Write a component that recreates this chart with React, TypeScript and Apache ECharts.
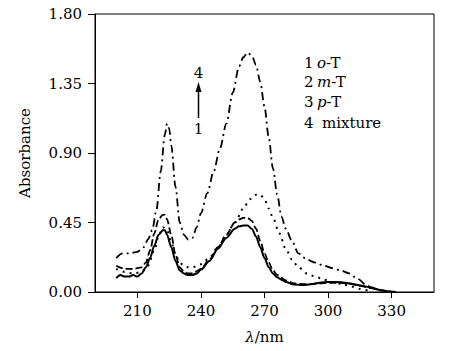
import React, { useEffect, useRef } from "react";
import * as echarts from "echarts";

// o-T (curve 1, solid)
const oTx = [200,202,204,206,208,210,212,214,216,218,220,222,223,224,226,228,230,232,234,236,238,240,244,248,252,256,258,260,262,264,266,268,270,272,274,276,278,280,284,288,292,296,300,304,308,312,316,320,324,328,332];
const oTy = [0.09,0.11,0.10,0.10,0.11,0.10,0.12,0.16,0.22,0.30,0.37,0.40,0.40,0.37,0.29,0.20,0.14,0.12,0.11,0.11,0.12,0.145,0.20,0.28,0.35,0.41,0.425,0.43,0.43,0.41,0.36,0.29,0.22,0.16,0.12,0.095,0.08,0.065,0.048,0.045,0.05,0.06,0.065,0.065,0.06,0.05,0.04,0.03,0.015,0.005,0.0];

// m-T (curve 2, dashed)
const mTx = [200,204,208,212,214,216,218,220,222,223,224,226,228,230,232,234,236,240,244,248,252,256,258,260,262,264,266,268,270,272,274,276,280,284,290,296,300,305,310,315,320,325,330];
const mTy = [0.17,0.15,0.15,0.16,0.19,0.27,0.38,0.47,0.50,0.50,0.47,0.37,0.24,0.16,0.13,0.12,0.12,0.15,0.21,0.29,0.37,0.45,0.47,0.48,0.48,0.46,0.41,0.33,0.25,0.19,0.14,0.11,0.075,0.055,0.05,0.055,0.06,0.06,0.055,0.04,0.025,0.01,0.0];

// p-T (curve 3, dotted)
const pTx = [200,204,208,212,215,218,220,222,224,226,228,230,232,234,236,240,244,248,252,256,260,263,266,268,270,272,274,277,280,283,286,290,294,298,302,307,311,315,320];
const pTy = [0.15,0.13,0.12,0.13,0.17,0.27,0.36,0.42,0.40,0.32,0.24,0.19,0.17,0.16,0.16,0.18,0.22,0.29,0.37,0.45,0.54,0.60,0.63,0.63,0.60,0.54,0.48,0.38,0.28,0.21,0.16,0.12,0.10,0.08,0.065,0.05,0.035,0.02,0.005];

// mixture (curve 4, dash-dot)
const mixX = [200,203,206,210,213,215,217,219,221,223,224,225,226,228,230,232,234,236,238,240,243,246,249,252,255,258,260,262,264,266,268,270,272,274,276,278,280,283,286,290,294,298,302,306,310,314,318,321];
const mixY = [0.22,0.25,0.25,0.26,0.29,0.34,0.40,0.53,0.78,1.02,1.09,1.06,0.95,0.68,0.45,0.37,0.34,0.35,0.42,0.51,0.64,0.78,0.93,1.09,1.29,1.46,1.52,1.55,1.53,1.47,1.36,1.20,1.00,0.80,0.63,0.49,0.41,0.33,0.25,0.21,0.19,0.17,0.155,0.14,0.12,0.085,0.045,0.02];

const xTicks = [210, 240, 270, 300, 330];
const legendNums = ["1", "2", "3", "4"];
const legendNames = ["{i|o}-T", "{i|m}-T", "{i|p}-T", "mixture"];

const FONT = "DejaVu Serif";
const FS = 15;

const zip = (xs: number[], ys: number[]) => xs.map((x, i) => [x, ys[i]]);

export default function App() {
  const ref = useRef<HTMLDivElement>(null);
  useEffect(() => {
    if (!ref.current) return;
    const chart = echarts.init(ref.current, null, { renderer: "svg" });
    const baseLine = (data: number[][], type: any, width: number) => ({
      type: "line",
      data,
      smooth: 0.3,
      smoothMonotone: "x",
      showSymbol: false,
      symbol: "none",
      lineStyle: { color: "#000", width, type },
    });
    const txt = (x: number, y: number, text: string, align = "left") => ({
      type: "text",
      x,
      y,
      style: {
        text,
        fill: "#000",
        fontFamily: FONT,
        fontSize: FS,
        align,
        verticalAlign: "middle",
        rich: { i: { fontStyle: "italic", fontFamily: FONT, fontSize: FS } },
      },
    });
    const legendYs = [63, 82, 102, 123];
    const graphics: any[] = [];
    legendNums.forEach((n, i) => {
      graphics.push(txt(304, legendYs[i], n));
      graphics.push(txt(i === 3 ? 322 : 317, legendYs[i], legendNames[i]));
    });
    graphics.push(txt(198.5, 73, "4", "center"));
    graphics.push(txt(198.5, 129, "1", "center"));
    graphics.push({
      type: "line",
      shape: { x1: 198.5, y1: 118, x2: 198.5, y2: 90 },
      style: { stroke: "#000", lineWidth: 1.5 },
    });
    graphics.push({
      type: "polygon",
      shape: { points: [[198.5, 82], [195.5, 92], [201.5, 92]] },
      style: { fill: "#000" },
    });

    chart.setOption({
      animation: false,
      textStyle: { fontFamily: FONT },
      grid: {
        left: 95,
        right: 16,
        top: 14,
        bottom: 59,
        show: true,
        borderColor: "#000",
        borderWidth: 1,
      },
      xAxis: {
        type: "value",
        min: 190,
        max: 350,
        name: "{i|λ}/nm",
        nameLocation: "middle",
        nameGap: 37,
        nameTextStyle: {
          color: "#000",
          fontFamily: FONT,
          fontSize: FS,
          rich: { i: { fontStyle: "italic", fontFamily: FONT, fontSize: FS, color: "#000" } },
        },
        axisLine: { lineStyle: { color: "#000", width: 1 } },
        axisTick: { show: true, length: 6, inside: false, customValues: xTicks, lineStyle: { color: "#000" } },
        axisLabel: { customValues: xTicks, color: "#000", fontFamily: FONT, fontSize: FS, margin: 11 },
        splitLine: { show: false },
      },
      yAxis: {
        type: "value",
        min: 0,
        max: 1.8,
        interval: 0.45,
        name: "Absorbance",
        nameLocation: "middle",
        nameRotate: 90,
        nameGap: 63,
        nameTextStyle: { color: "#000", fontFamily: FONT, fontSize: FS },
        axisLine: { show: true, lineStyle: { color: "#000", width: 1 } },
        axisTick: { show: true, length: 7, lineStyle: { color: "#000" } },
        axisLabel: {
          color: "#000",
          fontFamily: FONT,
          fontSize: FS,
          margin: 13,
          formatter: (v: number) => v.toFixed(2),
        },
        splitLine: { show: false },
      },
      series: [
        baseLine(zip(oTx, oTy), "solid", 2),
        baseLine(zip(mTx, mTy), [7, 3], 1.8),
        baseLine(zip(pTx, pTy), [2, 5], 2),
        baseLine(zip(mixX, mixY), [8, 4, 2, 4], 1.8),
      ],
      graphic: graphics,
    });
    return () => chart.dispose();
  }, []);
  return <div ref={ref} style={{ width: 450, height: 351, position: "absolute", left: 0, top: 0 }} />;
}
